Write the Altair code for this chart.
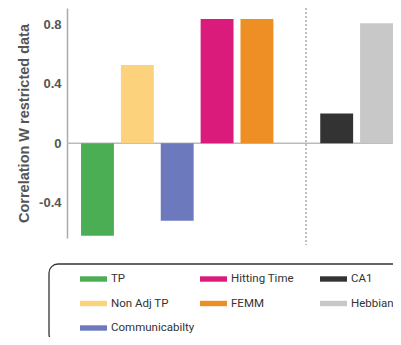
import altair as alt
import pandas as pd

categories = ["TP", "Non Adj TP", "Communicabilty", "Hitting Time", "FEMM", "CA1", "Hebbian"]
values = [-0.62, 0.525, -0.52, 0.835, 0.835, 0.20, 0.805]
colors = ["#4cae54", "#fcd27c", "#6c79bd", "#da1b7b", "#ee8f25", "#333333", "#c8c8c8"]
slot_order = ["TP", "Non Adj TP", "Communicabilty", "Hitting Time", "FEMM", "_gap", "CA1", "Hebbian"]
# order fed to the colour scale so the 3-column legend reads
# TP | Hitting Time | CA1 / Non Adj TP | FEMM | Hebbian / Communicabilty
legend_domain = ["TP", "Non Adj TP", "Hebbian", "Hitting Time", "FEMM", "Communicabilty", "CA1"]
y_ticks = [-0.4, 0, 0.4, 0.8]
axis_title = "Correlation W restricted data"

df = pd.DataFrame({"method": categories, "value": values})
color_map = dict(zip(categories, colors))
legend_colors = [color_map[c] for c in legend_domain]

W, H = 326, 230
one = pd.DataFrame({"v": [0]})

label_expr = ("datum.value == 0 ? '0' : (datum.value < 0 ? '-' + format(-datum.value, '.1f')"
              " : format(datum.value, '.1f'))")

bars = alt.Chart(df).mark_bar().encode(
    x=alt.X("method:N",
            scale=alt.Scale(domain=slot_order, paddingInner=0.175, paddingOuter=0.176, align=1),
            axis=None),
    y=alt.Y("value:Q",
            scale=alt.Scale(domain=[-0.635, 0.908], nice=False, zero=False),
            axis=alt.Axis(values=y_ticks, labelExpr=label_expr,
                          labelFont="Liberation Sans", labelFontWeight="bold",
                          labelFontSize=13, labelColor="#555555", labelPadding=6,
                          ticks=False, grid=False, domainColor="#aaaaaa", domainWidth=1.5,
                          title=axis_title, titleFont="Liberation Sans",
                          titleFontSize=14.5, titleFontWeight="bold",
                          titleColor="#555555", titlePadding=7)),
    color=alt.Color("method:N",
                    scale=alt.Scale(domain=legend_domain, range=legend_colors),
                    legend=alt.Legend(orient="none", legendX=13, legendY=257.5,
                                      columns=3, gridAlign="all", columnPadding=5,
                                      rowPadding=5.5, padding=0, title=None,
                                      symbolType="M-1,-0.2H1V0.2H-1Z", symbolSize=729,
                                      symbolStrokeWidth=0, symbolOpacity=1,
                                      labelFont="Roboto", labelFontSize=11.5,
                                      labelColor="#333333", labelOffset=4,
                                      labelLimit=200)),
)

zero_line = alt.Chart(one).mark_rule(color="#bbbbbb", strokeWidth=1.5).encode(
    y="v:Q", x=alt.value(0), x2=alt.value(W)
)

divider = alt.Chart(one).mark_rule(color="#aaaaaa", strokeWidth=1.5, strokeDash=[2, 2]).encode(
    x=alt.value(239), y=alt.value(-4), y2=alt.value(237)
)

box = alt.Chart(one).mark_rect(fill="transparent", stroke="#333333", strokeWidth=1.3,
                               cornerRadius=9).encode(
    x=alt.value(-18), x2=alt.value(360), y=alt.value(256), y2=alt.value(335)
)

chart = alt.layer(box, zero_line, bars, divider).properties(
    width=W, height=H,
    autosize=alt.AutoSizeParams(type="none"),
    padding={"left": 59, "top": 0, "right": 0, "bottom": 99},
).configure_view(stroke=None)

chart.save("out.html", embed_options={"renderer": "svg", "actions": False})
